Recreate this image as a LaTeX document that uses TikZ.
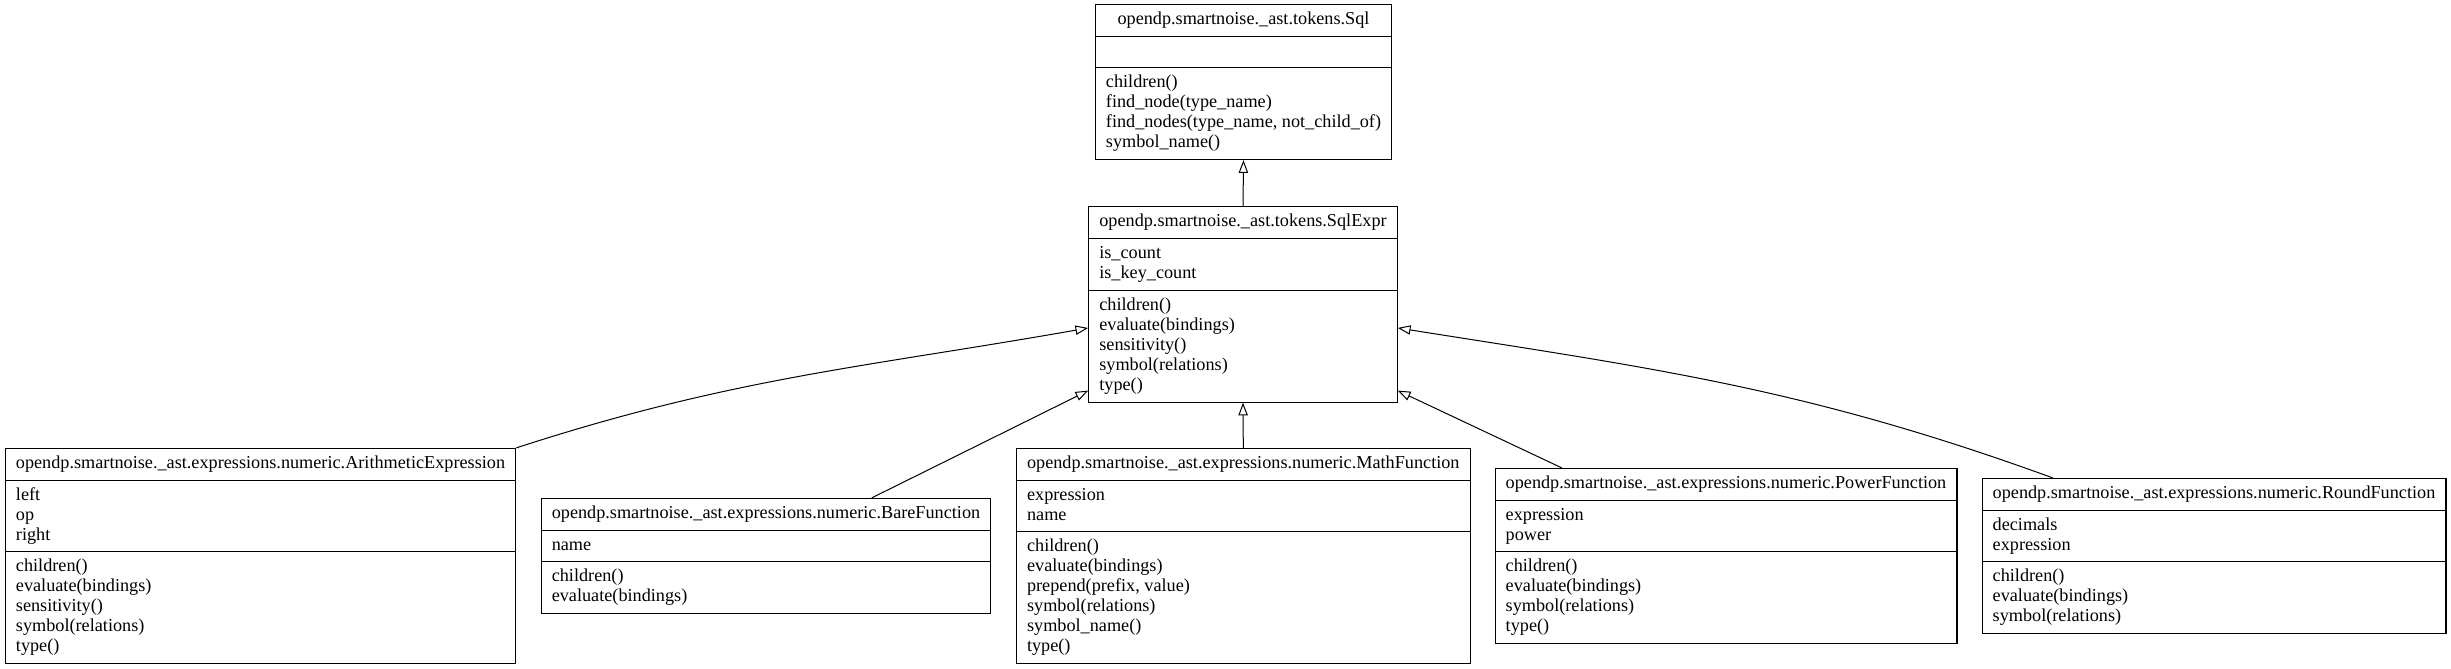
\documentclass[tikz,border=0pt]{standalone}
\usepackage{fontspec}
\setmainfont{Liberation Serif}
\usetikzlibrary{shapes.multipart,arrows.meta}
\tikzset{umlclass/.style = {draw, line width=0.8pt, rectangle split, rectangle split parts=3,
                            rectangle split part align={center,left,left},
                            inner xsep=8pt, inner ysep=4pt,
                            font=\fontsize{13.66}{15}\selectfont}}
\tikzset{inherit/.style = {-{Triangle[open,length=9.5pt,width=7pt]}, line width=0.75pt}}
\newcommand{\members}[1]{\begin{tabular}{@{}l@{}}#1\end{tabular}}

\begin{document}
\begin{tikzpicture}[x=0.75pt,y=-0.75pt]
\useasboundingbox (0,0) rectangle (2451,668);
\node [umlclass] (sql) at (1243.5,82) {\members{opendp.smartnoise.\_ast.tokens.Sql}
  \nodepart{second}\members{\strut}
  \nodepart{third}\members{children()\\find\_node(type\_name)\\find\_nodes(type\_name, not\_child\_of)\\symbol\_name()}};
\node [umlclass] (sqlexpr) at (1243,304.5) {\members{opendp.smartnoise.\_ast.tokens.SqlExpr}
  \nodepart{second}\members{is\_count\\is\_key\_count}
  \nodepart{third}\members{children()\\evaluate(bindings)\\sensitivity()\\symbol(relations)\\type()}};
\node [umlclass] (arith) at (260.5,556) {\members{opendp.smartnoise.\_ast.expressions.numeric.ArithmeticExpression}
  \nodepart{second}\members{left\\op\\right}
  \nodepart{third}\members{children()\\evaluate(bindings)\\sensitivity()\\symbol(relations)\\type()}};
\node [umlclass] (bare) at (766,556) {\members{opendp.smartnoise.\_ast.expressions.numeric.BareFunction}
  \nodepart{second}\members{name}
  \nodepart{third}\members{children()\\evaluate(bindings)}};
\node [umlclass] (math) at (1243.3,556) {\members{opendp.smartnoise.\_ast.expressions.numeric.MathFunction}
  \nodepart{second}\members{expression\\name}
  \nodepart{third}\members{children()\\evaluate(bindings)\\prepend(prefix, value)\\symbol(relations)\\symbol\_name()\\type()}};
\node [umlclass] (power) at (1726,556) {\members{opendp.smartnoise.\_ast.expressions.numeric.PowerFunction}
  \nodepart{second}\members{expression\\power}
  \nodepart{third}\members{children()\\evaluate(bindings)\\symbol(relations)\\type()}};
\node [umlclass] (round) at (2214,556) {\members{opendp.smartnoise.\_ast.expressions.numeric.RoundFunction}
  \nodepart{second}\members{decimals\\expression}
  \nodepart{third}\members{children()\\evaluate(bindings)\\symbol(relations)}};

\draw [inherit] (sqlexpr.north) -- (sql.south);
\draw [inherit] (arith.north east) to[out=18,in=190] ([yshift=-17.6pt]sqlexpr.west);
\draw [inherit] ([xshift=79.3pt]bare.north) -- ([yshift=9pt]sqlexpr.south west);
\draw [inherit] (math.north) -- (sqlexpr.south);
\draw [inherit] ([xshift=-123.2pt]power.north) -- ([yshift=9pt]sqlexpr.south east);
\draw [inherit] ([xshift=-121pt]round.north) to[out=160,in=-9] ([yshift=-17.6pt]sqlexpr.east);
\end{tikzpicture}
\end{document}
